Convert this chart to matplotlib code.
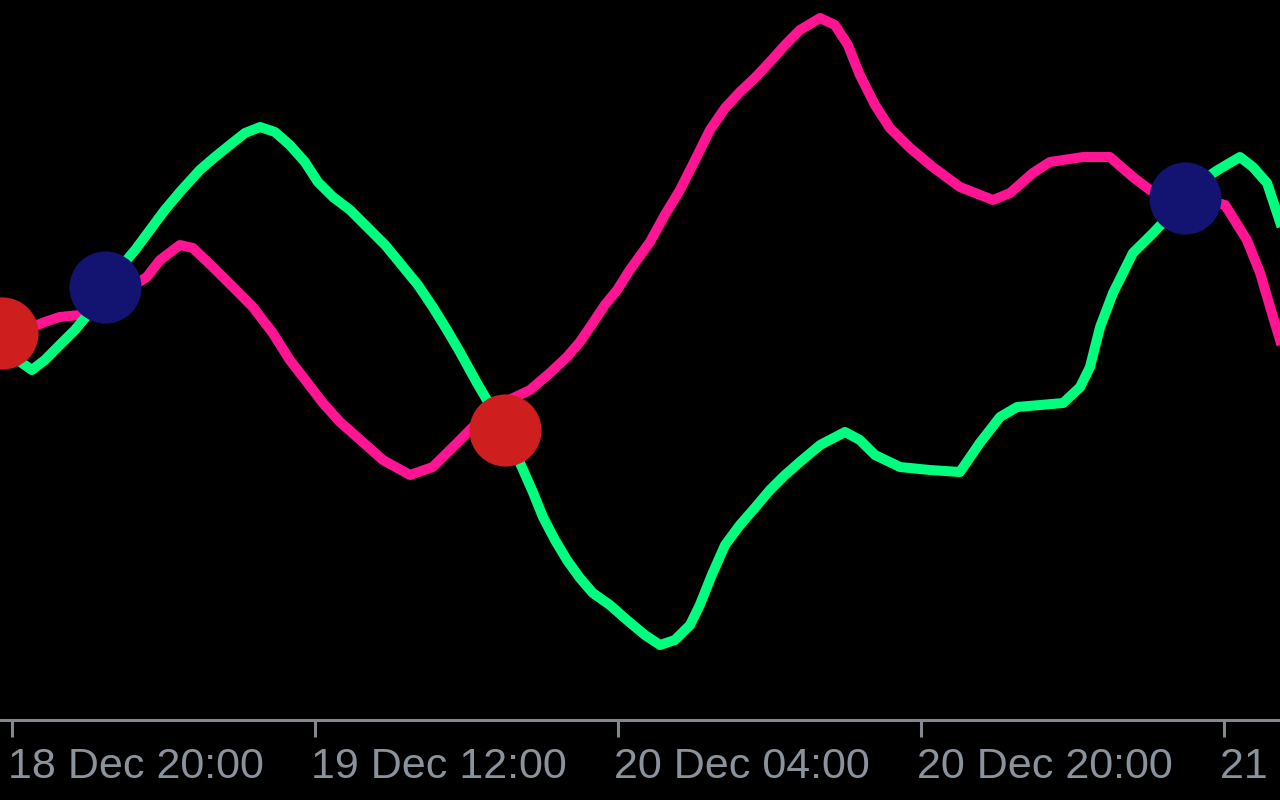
import numpy as np
import matplotlib.pyplot as plt
import matplotlib.dates as mdates
from matplotlib.transforms import offset_copy

plt.rcParams['font.family'] = ['Liberation Sans Narrow', 'Liberation Sans', 'DejaVu Sans']

base = np.datetime64('2023-12-18T20:00')

# hours after 18 Dec 20:00 and indicator values
green_h = [-0.63, 0.16, 1.06, 1.74, 2.53, 3.33, 4.12, 4.91, 5.70, 6.50, 7.29, 8.08, 8.87,
           9.93, 10.72, 11.51, 12.30, 13.10, 13.89, 14.68, 15.47, 16.16, 16.95, 17.85,
           18.75, 19.70, 20.49, 21.44, 22.23, 22.97, 23.66, 24.55, 25.24, 26.03, 26.93,
           27.51, 28.04, 28.67, 29.31, 29.99, 30.68, 31.58, 32.47, 33.43, 34.22, 35.01,
           35.80, 36.33, 36.96, 37.65, 38.44, 39.23, 40.03, 40.82, 41.61, 42.67, 43.99,
           44.78, 45.57, 46.89, 48.47, 50.06, 51.11, 52.17, 53.07, 55.50, 56.40, 56.92,
           57.45, 58.14, 59.19, 60.25, 61.15, 61.94, 62.73, 63.68, 64.84, 65.53, 66.27, 66.96]
green_v = [11.6, 8.4, 6.0, 8.0, 11.0, 14.0, 17.6, 22.0, 26.4, 30.0, 34.0, 38.0, 41.6,
           46.0, 48.6, 51.0, 53.4, 54.6, 53.6, 51.0, 47.6, 43.6, 40.6, 38.0,
           34.6, 31.0, 27.4, 23.0, 18.6, 14.0, 9.6, 3.4, -1.0, -6.0, -13.4,
           -18.4, -23.4, -28.0, -32.0, -35.6, -38.6, -41.0, -44.0, -47.0, -49.0, -48.0,
           -45.0, -41.0, -35.0, -29.0, -25.0, -21.6, -18.0, -15.0, -12.4, -9.0, -6.4,
           -8.0, -11.0, -13.4, -14.0, -14.4, -8.6, -3.4, -1.4, -0.6, 2.6, 6.6,
           14.6, 21.4, 29.4, 33.4, 37.0, 40.4, 43.6, 46.0, 48.6, 46.6, 43.4, 35.6]

pink_h = [-0.63, 0.16, 0.95, 1.74, 2.53, 3.59, 4.38, 5.17, 6.23, 7.13, 7.82, 8.87, 9.56,
          10.61, 11.67, 12.73, 13.78, 14.68, 15.58, 16.42, 17.32, 18.22, 19.59, 21.02,
          22.23, 23.50, 24.71, 26.03, 27.35, 28.41, 29.31, 29.99, 30.68, 31.31, 31.95,
          32.63, 33.69, 34.48, 35.28, 36.07, 36.86, 37.65, 38.44, 39.23, 40.03, 40.82,
          41.61, 42.67, 43.46, 44.14, 44.78, 45.57, 46.36, 47.42, 48.63, 50.06, 51.80,
          52.70, 53.91, 54.81, 56.56, 57.98, 59.19, 60.09, 61.15, 62.73, 64.05, 65.21,
          65.90, 66.59, 66.96]
pink_v = [12.0, 13.0, 14.4, 15.6, 16.6, 17.0, 18.4, 20.4, 22.4, 24.6, 28.0, 31.0, 30.4,
          26.6, 22.6, 18.6, 13.4, 8.0, 3.6, -0.6, -4.4, -7.4, -12.0, -15.0,
          -13.4, -8.6, -4.0, -0.4, 2.0, 5.4, 8.6, 11.6, 15.4, 19.0, 22.0,
          26.0, 31.6, 37.0, 42.0, 48.0, 54.0, 58.4, 61.6, 64.4, 67.6, 71.0,
          74.0, 76.4, 75.0, 71.0, 65.0, 59.0, 54.4, 50.4, 46.6, 42.6, 40.0,
          41.4, 45.4, 47.6, 48.6, 48.6, 44.6, 42.0, 40.6, 40.4, 39.0, 32.0,
          25.4, 16.6, 12.0]

# crossing markers
sell_h = [-0.53, 26.03]
sell_v = [13.4, -6.0]
buy_h = [4.91, 61.94]
buy_v = [22.6, 40.4]

tick_h = [0, 16, 32, 48, 64]


def to_time(hours):
    return base + (np.array(hours) * 60).astype(int).astype('timedelta64[m]')


fig = plt.figure(figsize=(12.8, 8), dpi=100, facecolor='black')
ax = fig.add_axes([0, 0.1, 1, 0.9], facecolor='black')

ax.plot(to_time(pink_h), pink_v, color='#ff1493', lw=7.2, solid_joinstyle='round')
ax.plot(to_time(green_h), green_v, color='#00ff7f', lw=7.2, solid_joinstyle='round')
ax.scatter(to_time(sell_h), sell_v, s=2700, color='#cf1e1e', zorder=5, linewidths=0)
ax.scatter(to_time(buy_h), buy_v, s=2700, color='#131372', zorder=5, linewidths=0)

x0 = base + np.timedelta64(-38, 'm')
x1 = base + np.timedelta64(int(66.96 * 60), 'm')
ax.set_xlim(x0, x1)
ax.set_ylim(-64, 80)

for s in ['top', 'left', 'right']:
    ax.spines[s].set_visible(False)
ax.spines['bottom'].set_color('#84878d')
ax.spines['bottom'].set_linewidth(2.2)
ax.set_yticks([])

ax.set_xticks(to_time(tick_h))
ax.xaxis.set_major_formatter(mdates.DateFormatter('%d %b %H:%M'))
ax.tick_params(axis='x', direction='out', length=12.5, width=2.2, color='#84878d',
               labelcolor='#8a929c', labelsize=31, pad=7)
for lab in ax.get_xticklabels():
    lab.set_horizontalalignment('left')
    lab.set_transform(offset_copy(lab.get_transform(), fig=fig, x=-4, y=0, units='dots'))

fig.savefig('out.png', dpi=100, facecolor='black')
